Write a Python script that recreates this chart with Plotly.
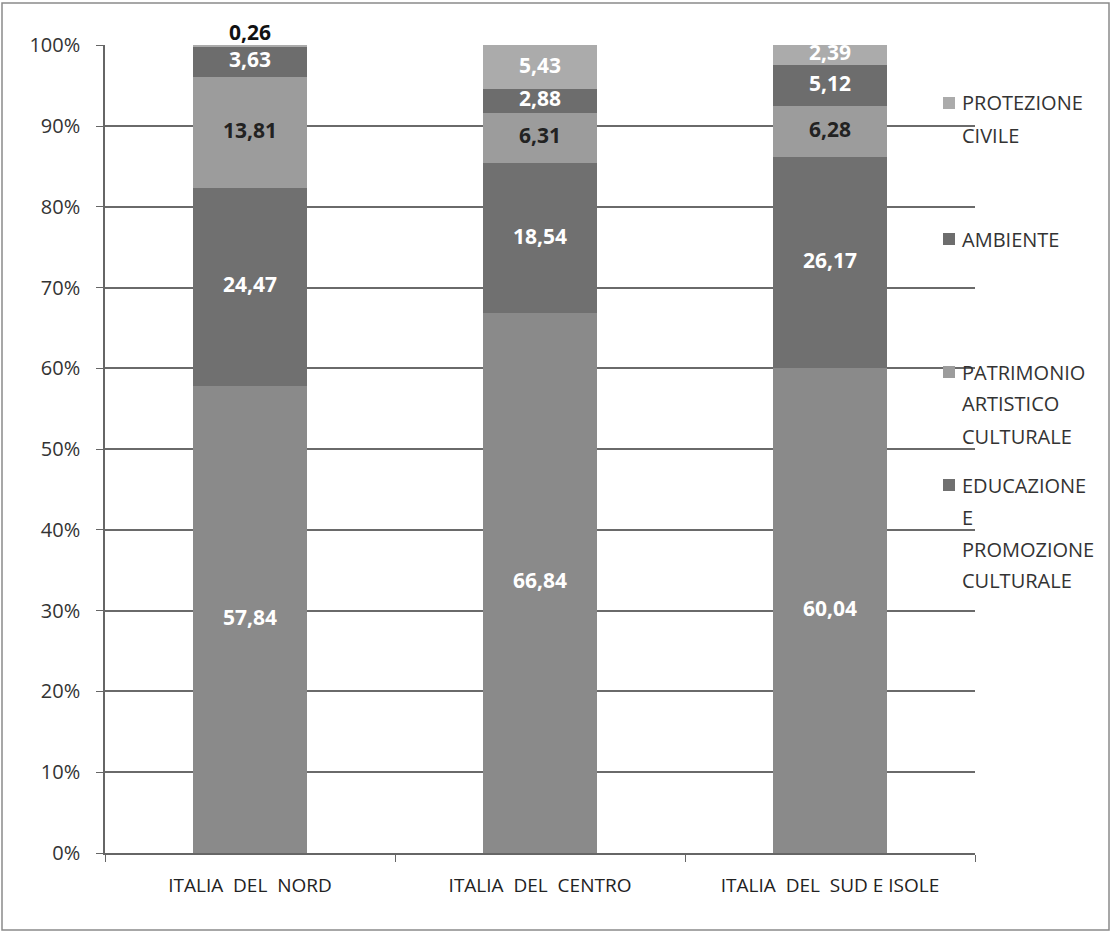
import plotly.graph_objects as go

categories = ["ITALIA\u00a0 DEL\u00a0 NORD", "ITALIA\u00a0 DEL\u00a0 CENTRO", "ITALIA\u00a0 DEL\u00a0 SUD E ISOLE"]
y_tick_values = [0, 10, 20, 30, 40, 50, 60, 70, 80, 90, 100]
y_tick_labels = ["0%", "10%", "20%", "30%", "40%", "50%", "60%", "70%", "80%", "90%", "100%"]

# stack order bottom -> top
series_names = ["ALTRO", "EDUCAZIONE E PROMOZIONE CULTURALE", "PATRIMONIO ARTISTICO CULTURALE",
                "AMBIENTE", "PROTEZIONE CIVILE"]
base_vals = [57.84, 66.84, 60.04]
educazione = [24.47, 18.54, 26.17]
patrimonio = [13.81, 6.31, 6.28]
ambiente = [3.63, 2.88, 5.12]
protezione = [0.26, 5.43, 2.39]
series_values = [base_vals, educazione, patrimonio, ambiente, protezione]
series_colors = ["#8a8a8a", "#707070", "#9c9c9c", "#6d6d6d", "#ababab"]
text_colors = [["white"] * 3, ["white"] * 3, ["#222222"] * 3, ["white"] * 3, ["#111111", "white", "white"]]
label_outside = [[False] * 3] * 4 + [[True, False, False]]

legend_lines = [
    ["PROTEZIONE", "CIVILE"],
    ["AMBIENTE"],
    ["PATRIMONIO", "ARTISTICO", "CULTURALE"],
    ["EDUCAZIONE", "E", "PROMOZIONE", "CULTURALE"],
]
legend_colors = ["#ababab", "#6d6d6d", "#9c9c9c", "#707070"]
legend_top_px = [103, 239, 372, 485]
line_step_px = 32

W, H = 1112, 933
L, R, T, B = 105, 137, 45, 80
pw, ph = W - L - R, H - T - B


def px_x(x):
    return (x - L) / pw


def px_y(y):
    return (H - B - y) / ph


FONT = "Open Sans"
fig = go.Figure()
cum = [0.0] * len(categories)
in_x, in_y, in_t, in_c = [], [], [], []
out_x, out_y, out_t, out_c = [], [], [], []
for name, vals, col, tcol, outs in zip(series_names, series_values, series_colors, text_colors, label_outside):
    fig.add_trace(go.Bar(
        x=categories, y=vals, name=name, marker=dict(color=col, line=dict(width=0)),
        width=0.39, showlegend=False, hoverinfo="x+y+name",
    ))
    for i, v in enumerate(vals):
        t = f"{v:.2f}".replace(".", ",")
        if outs[i]:
            out_x.append(categories[i]); out_y.append(cum[i] + v); out_t.append(t); out_c.append(tcol[i])
        else:
            in_x.append(categories[i]); in_y.append(cum[i] + v / 2); in_t.append(t); in_c.append(tcol[i])
        cum[i] += v

fig.add_trace(go.Scatter(
    x=in_x, y=in_y, text=in_t, mode="text", textposition="middle center",
    textfont=dict(family=FONT, size=21, color=in_c, weight="bold"),
    showlegend=False, hoverinfo="skip", cliponaxis=False,
))
fig.add_trace(go.Scatter(
    x=out_x, y=out_y, text=out_t, mode="text", textposition="top center",
    textfont=dict(family=FONT, size=21, color=out_c, weight="bold"),
    showlegend=False, hoverinfo="skip", cliponaxis=False,
))

annotations = []
shapes = []
for lines, col, ytop in zip(legend_lines, legend_colors, legend_top_px):
    shapes.append(dict(type="rect", xref="paper", yref="paper",
                       x0=px_x(943), x1=px_x(955), y0=px_y(ytop - 6), y1=px_y(ytop + 6),
                       fillcolor=col, line=dict(width=0)))
    for i, ln in enumerate(lines):
        annotations.append(dict(xref="paper", yref="paper", x=px_x(960), y=px_y(ytop + i * line_step_px),
                                text=ln, showarrow=False, xanchor="left", yanchor="middle",
                                font=dict(family=FONT, size=20, color="#333333")))

shapes.append(dict(type="rect", xref="paper", yref="paper",
                   x0=px_x(2), x1=px_x(1109), y0=px_y(930), y1=px_y(3),
                   line=dict(color="#8a8a8a", width=1.5), fillcolor="rgba(0,0,0,0)", layer="below"))

fig.update_layout(
    width=W, height=H, barmode="stack",
    margin=dict(l=L, r=R, t=T, b=B),
    paper_bgcolor="white", plot_bgcolor="white",
    annotations=annotations, shapes=shapes,
    xaxis=dict(type="category", tickson="boundaries", ticks="outside", ticklen=7,
               tickcolor="#666666", showline=True, linecolor="#666666", linewidth=1.5,
               tickfont=dict(family=FONT, size=19, color="#222222"),
               ticklabelstandoff=14, showgrid=False),
    yaxis=dict(range=[0, 100.05], tickmode="array", tickvals=y_tick_values, ticktext=y_tick_labels,
               ticks="outside", ticklen=7,
               tickcolor="#666666", showline=True, linecolor="#666666", linewidth=1.5,
               showgrid=True, gridcolor="#6a6a6a", gridwidth=1.5, zeroline=False,
               tickfont=dict(family=FONT, size=20, color="#333333"),
               ticklabelstandoff=12),
)

fig.write_html("out.html", config={"displayModeBar": False},
               post_script="document.body.style.margin='0';document.body.style.padding='0';")
